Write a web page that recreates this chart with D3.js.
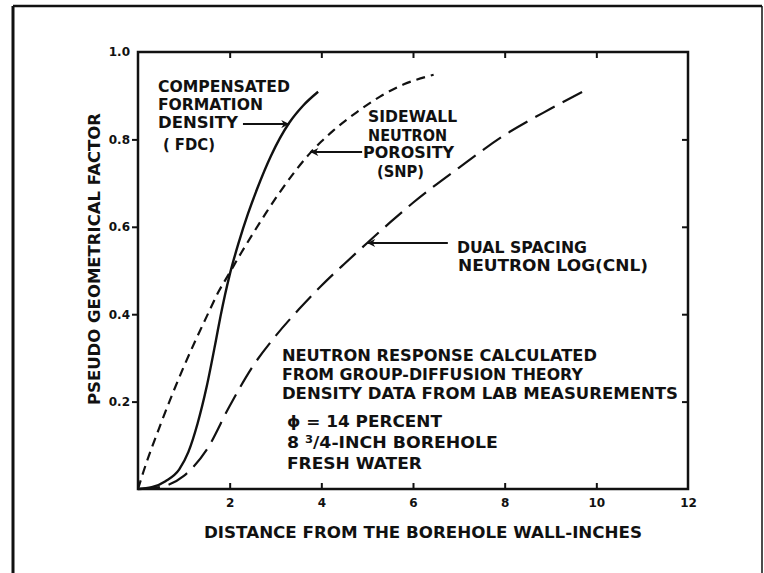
<!DOCTYPE html>
<html>
<head>
<meta charset="utf-8">
<script src="https://cdn.jsdelivr.net/npm/d3@7"></script>
<style>
  html, body { margin: 0; padding: 0; background: #fff; }
  svg text { font-family: "DejaVu Sans", "Liberation Sans", sans-serif; font-weight: bold; fill: #111; }
</style>
</head>
<body>
<svg id="chart" width="764" height="573"></svg>
<script>
// ---- data ----
const fdcX = [0, 0.3, 0.6, 0.9, 1.1, 1.3, 1.5, 1.7, 1.8, 1.9, 2.0, 2.2, 2.4, 2.6, 2.9, 3.3, 3.6, 3.93];
const fdcY = [0, 0.004, 0.018, 0.045, 0.085, 0.15, 0.235, 0.34, 0.395, 0.445, 0.49, 0.565, 0.63, 0.687, 0.762, 0.838, 0.877, 0.909];

const snpX = [0, 0.12, 0.5, 1.0, 1.5, 1.75, 2.0, 2.25, 2.5, 2.8, 3.1, 3.45, 3.75, 4.0, 4.26, 4.77, 5.28, 5.8, 6.45];
const snpY = [0, 0.04, 0.15, 0.28, 0.395, 0.45, 0.495, 0.54, 0.583, 0.633, 0.68, 0.73, 0.768, 0.795, 0.82, 0.862, 0.898, 0.926, 0.948];

const cnlX = [0, 0.5, 1.0, 1.5, 2.0, 2.5, 3.0, 3.5, 4.0, 4.5, 5.0, 5.5, 6.0, 7.0, 8.0, 9.0, 9.85];
const cnlY = [0, 0.005, 0.03, 0.09, 0.19, 0.28, 0.35, 0.41, 0.465, 0.515, 0.563, 0.61, 0.655, 0.735, 0.81, 0.87, 0.917];

const xTicks = [2, 4, 6, 8, 10, 12];
const xTickLabels = ["2", "4", "6", "8", "10", "12"];
const yTicks = [0.2, 0.4, 0.6, 0.8, 1.0];
const yTickLabels = ["0.2", "0.4", "0.6", "0.8", "1.0"];

const xTitle = "DISTANCE FROM THE BOREHOLE WALL-INCHES";
const yTitle = "PSEUDO GEOMETRICAL FACTOR";

// ---- layout ----
const svg = d3.select("#chart");
const L = 138, R = 688, T = 52, B = 489;
const x = d3.scaleLinear().domain([0, 12]).range([L, R]);
const y = d3.scaleLinear().domain([0, 1]).range([B, T]);

// outer frame (page border)
const frame = svg.append("g").attr("stroke", "#111").attr("fill", "none");
frame.append("line").attr("x1", 13).attr("y1", 6).attr("x2", 762).attr("y2", 6).attr("stroke-width", 2.5);
frame.append("line").attr("x1", 13).attr("y1", 6).attr("x2", 13).attr("y2", 573).attr("stroke-width", 3);
frame.append("line").attr("x1", 762).attr("y1", 6).attr("x2", 762).attr("y2", 573).attr("stroke-width", 1.5);

// axes
const gAxes = svg.append("g");
const styleAxis = (g) => {
  g.select(".domain").remove();
  g.selectAll(".tick line").attr("stroke", "#111").attr("stroke-width", 2);
  g.selectAll(".tick text").attr("font-size", 12).attr("fill", "#111")
    .style("font-family", '"DejaVu Sans", sans-serif').style("font-weight", "bold");
};

const leftAxis = gAxes.append("g").attr("transform", `translate(${L},0)`)
  .call(d3.axisLeft(y).tickValues(yTicks).tickSize(6).tickPadding(2)
    .tickFormat((d, i) => yTickLabels[i]));
styleAxis(leftAxis);
leftAxis.selectAll(".tick").filter(d => d === 1.0).select("line").remove();

const bottomAxis = gAxes.append("g").attr("transform", `translate(0,${B})`)
  .call(d3.axisBottom(x).tickValues(xTicks).tickSize(-6).tickPadding(9)
    .tickFormat((d, i) => xTickLabels[i]));
styleAxis(bottomAxis);
bottomAxis.selectAll(".tick").filter(d => d === 12).select("line").remove();

const topAxis = gAxes.append("g").attr("transform", `translate(0,${T})`)
  .call(d3.axisTop(x).tickValues(xTicks.slice(0, -1)).tickSize(-6).tickFormat(""));
styleAxis(topAxis);

const rightAxis = gAxes.append("g").attr("transform", `translate(${R},0)`)
  .call(d3.axisRight(y).tickValues(yTicks.slice(0, -1)).tickSize(-6).tickFormat(""));
styleAxis(rightAxis);

// plot frame
svg.append("rect").attr("x", L).attr("y", T).attr("width", R - L).attr("height", B - T)
  .attr("fill", "none").attr("stroke", "#111").attr("stroke-width", 2.5);

// curves
const line = d3.line().x(d => x(d[0])).y(d => y(d[1])).curve(d3.curveMonotoneX);
const series = [
  { xs: fdcX, ys: fdcY, dash: null, w: 2.4 },
  { xs: snpX, ys: snpY, dash: "9,6", w: 2.2 },
  { xs: cnlX, ys: cnlY, dash: "22,9", w: 2.2 }
];
svg.append("g").selectAll("path").data(series).join("path")
  .attr("d", s => line(s.xs.map((v, i) => [v, s.ys[i]])))
  .attr("fill", "none").attr("stroke", "#111")
  .attr("stroke-width", s => s.w)
  .attr("stroke-dasharray", s => s.dash)
  .attr("stroke-linecap", "butt");

// arrows (tip and tail given in data units)
const defs = svg.append("defs");
defs.append("marker").attr("id", "ah").attr("viewBox", "0 0 10 10")
  .attr("refX", 10).attr("refY", 5).attr("markerWidth", 14).attr("markerHeight", 8)
  .attr("markerUnits", "userSpaceOnUse").attr("orient", "auto")
  .append("path").attr("d", "M0,0 L10,5 L0,10 L3,5 Z").attr("fill", "#111");

const arrows = [
  { from: [2.29, 0.835], to: [3.30, 0.835] },
  { from: [4.89, 0.771], to: [3.76, 0.771] },
  { from: [6.76, 0.563], to: [5.0, 0.563] }
];
svg.append("g").selectAll("line").data(arrows).join("line")
  .attr("x1", a => x(a.from[0])).attr("y1", a => y(a.from[1]))
  .attr("x2", a => x(a.to[0])).attr("y2", a => y(a.to[1]))
  .attr("stroke", "#111").attr("stroke-width", 2).attr("marker-end", "url(#ah)");

// text annotations: block anchor in data units, line offsets in px
const blocks = [
  { at: [0.435, 0.9085], size: 15, lines: [
    { t: "COMPENSATED", dx: 0, dy: 0, w: 132 },
    { t: "FORMATION", dx: 0, dy: 18, w: 105 },
    { t: "DENSITY", dx: 0, dy: 36, w: 80 },
    { t: "( FDC)", dx: 5, dy: 58, w: 52 } ] },
  { at: [5.02, 0.840], size: 15, lines: [
    { t: "SIDEWALL", dx: 0, dy: 0, w: 89 },
    { t: "NEUTRON", dx: 0, dy: 19, w: 79 },
    { t: "POROSITY", dx: -5, dy: 36, w: 91 },
    { t: "(SNP)", dx: 9, dy: 55, w: 47 } ] },
  { at: [6.96, 0.540], size: 15, lines: [
    { t: "DUAL SPACING", dx: 0, dy: 0, w: 130 },
    { t: "NEUTRON LOG(CNL)", dx: 1, dy: 18, w: 190 } ] },
  { at: [3.14, 0.293], size: 15, lines: [
    { t: "NEUTRON RESPONSE CALCULATED", dx: 0, dy: 0, w: 315 },
    { t: "FROM GROUP-DIFFUSION THEORY", dx: 0, dy: 19, w: 301 },
    { t: "DENSITY DATA FROM LAB MEASUREMENTS", dx: 0, dy: 38, w: 396 },
    { t: "\u03D5 = 14 PERCENT", dx: 5, dy: 66, w: 155 },
    { t: "FRESH WATER", dx: 5, dy: 108, w: 135 } ] }
];
const gText = svg.append("g");
blocks.forEach(b => {
  b.lines.forEach(l => {
    gText.append("text")
      .attr("x", x(b.at[0]) + l.dx).attr("y", y(b.at[1]) + l.dy)
      .attr("font-size", b.size)
      .attr("textLength", l.w).attr("lengthAdjust", "spacingAndGlyphs")
      .text(l.t);
  });
});
// "8 3/4-INCH BOREHOLE" with superscript 3
const frac = gText.append("text")
  .attr("x", x(3.14) + 5).attr("y", y(0.293) + 87)
  .attr("font-size", 15);
frac.append("tspan").text("8 ");
frac.append("tspan").attr("font-size", 10).attr("dy", -5).text("3");
frac.append("tspan").attr("dy", 5).text("/4-INCH  BOREHOLE");
frac.attr("textLength", 211).attr("lengthAdjust", "spacingAndGlyphs");

// axis titles
svg.append("text").attr("x", 423).attr("y", 538).attr("text-anchor", "middle")
  .attr("font-size", 16).attr("textLength", 438).attr("lengthAdjust", "spacingAndGlyphs")
  .text(xTitle);
svg.append("text").attr("transform", "translate(100,259) rotate(-90)")
  .attr("text-anchor", "middle").attr("font-size", 16)
  .attr("textLength", 292).attr("lengthAdjust", "spacingAndGlyphs")
  .text(yTitle);
</script>
</body>
</html>
